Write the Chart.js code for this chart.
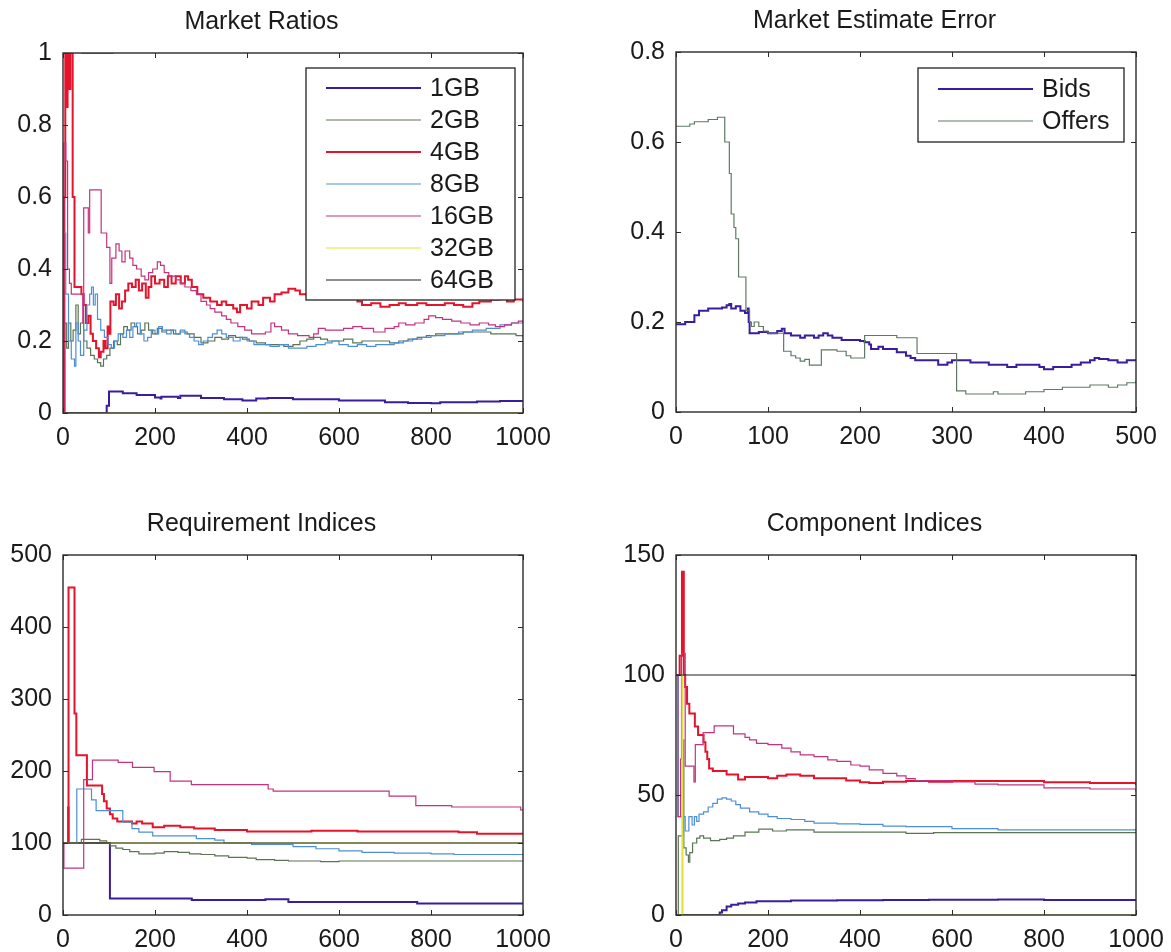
<!DOCTYPE html>
<html>
<head>
<meta charset="utf-8">
<script src="https://cdn.jsdelivr.net/npm/chart.js@4.4.1/dist/chart.umd.min.js"></script>
<style>
  html, body { margin: 0; padding: 0; background: #fff; overflow: hidden; }
  canvas { position: absolute; }
</style>
</head>
<body>
<canvas id="ratios" width="586" height="470" style="left:0;top:0"></canvas>
<canvas id="estimate" width="586" height="470" style="left:613px;top:-1px"></canvas>
<canvas id="requirement" width="586" height="470" style="left:0;top:502px"></canvas>
<canvas id="component" width="586" height="470" style="left:613px;top:502px"></canvas>
<script>
// memory sizes shared by three of the panels
const sizes = ["1GB", "2GB", "4GB", "8GB", "16GB", "32GB", "64GB"];

// Market Ratios: [round, ratio], each value holds until the next round listed
const ratio1GB = [[0,0],[88,0],[95,0.02],[100,0.06],[130,0.055],[160,0.05],[200,0.043],[212,0.04],[214,0.045],[250,0.042],[255,0.048],[300,0.042],[350,0.038],[390,0.035],[420,0.04],[445,0.042],[500,0.038],[600,0.035],[700,0.03],[750,0.028],[800,0.027],[820,0.03],[900,0.032],[950,0.033],[1000,0.033]];
const ratio2GB = [[0,0],[4,0.25],[8,0.18],[12,0.25],[17,0.2],[22,0.23],[28,0.3],[33,0.22],[38,0.25],[45,0.2],[52,0.18],[60,0.16],[68,0.15],[75,0.14],[82,0.13],[88,0.15],[95,0.16],[102,0.18],[110,0.2],[118,0.19],[125,0.22],[132,0.24],[140,0.23],[148,0.25],[156,0.24],[162,0.22],[170,0.23],[178,0.25],[186,0.23],[195,0.22],[205,0.235],[215,0.225],[225,0.23],[240,0.22],[255,0.225],[270,0.22],[285,0.21],[300,0.195],[315,0.2],[330,0.21],[345,0.205],[360,0.215],[375,0.21],[390,0.205],[405,0.2],[420,0.195],[440,0.19],[460,0.19],[480,0.185],[500,0.19],[515,0.2],[530,0.205],[545,0.21],[560,0.205],[575,0.2],[610,0.205],[630,0.195],[650,0.2],[710,0.195],[730,0.2],[750,0.205],[770,0.21],[790,0.215],[810,0.22],[870,0.225],[930,0.22],[985,0.215],[1000,0.21]];
const ratio4GB = [[0,0],[3,0.6],[5,1],[8,0.85],[10,1],[14,0.9],[16,1],[21,0.6],[25,0.35],[40,0.33],[45,0.3],[50,0.25],[55,0.27],[60,0.22],[65,0.2],[72,0.18],[78,0.155],[82,0.17],[88,0.2],[92,0.18],[97,0.24],[100,0.22],[103,0.31],[110,0.3],[115,0.33],[122,0.29],[128,0.31],[135,0.34],[142,0.36],[150,0.35],[158,0.37],[165,0.34],[172,0.36],[180,0.32],[186,0.35],[192,0.38],[200,0.36],[210,0.37],[220,0.35],[228,0.38],[236,0.36],[245,0.38],[256,0.36],[265,0.38],[272,0.37],[280,0.35],[292,0.33],[305,0.32],[320,0.31],[335,0.3],[345,0.31],[355,0.3],[370,0.29],[378,0.28],[385,0.3],[400,0.29],[410,0.31],[425,0.3],[435,0.32],[450,0.31],[460,0.33],[475,0.335],[490,0.345],[505,0.34],[515,0.33],[530,0.325],[545,0.32],[560,0.325],[575,0.33],[590,0.335],[605,0.33],[625,0.32],[640,0.31],[650,0.3],[670,0.305],[690,0.295],[710,0.3],[730,0.305],[745,0.3],[770,0.305],[790,0.3],[830,0.305],[850,0.3],[870,0.295],[890,0.305],[905,0.31],[930,0.315],[950,0.32],[965,0.31],[980,0.315],[1000,0.31]];
const ratio8GB = [[0,0],[1,0.5],[6,0.33],[12,0.2],[18,0.15],[25,0.13],[28,0.25],[33,0.2],[38,0.16],[45,0.23],[52,0.3],[58,0.33],[62,0.35],[66,0.3],[70,0.33],[75,0.26],[82,0.23],[90,0.21],[98,0.19],[105,0.18],[112,0.2],[120,0.22],[130,0.21],[138,0.23],[145,0.21],[152,0.24],[160,0.25],[168,0.22],[176,0.2],[184,0.21],[192,0.23],[200,0.22],[208,0.24],[216,0.23],[225,0.22],[235,0.23],[245,0.22],[255,0.23],[265,0.22],[275,0.21],[285,0.2],[295,0.19],[305,0.2],[315,0.21],[325,0.22],[335,0.23],[345,0.22],[355,0.21],[370,0.2],[385,0.21],[400,0.2],[415,0.19],[450,0.185],[470,0.19],[490,0.18],[530,0.185],[550,0.19],[570,0.195],[585,0.2],[600,0.19],[620,0.185],[640,0.19],[660,0.185],[680,0.19],[720,0.195],[740,0.2],[760,0.205],[780,0.21],[800,0.215],[830,0.22],[860,0.225],[890,0.23],[920,0.235],[950,0.245],[975,0.25],[1000,0.255]];
const ratio16GB = [[0,0],[2,0.75],[6,0.7],[10,0.4],[14,0.36],[18,0.33],[43,0.25],[45,0.57],[55,0.5],[58,0.62],[83,0.5],[95,0.46],[102,0.36],[106,0.43],[115,0.47],[122,0.45],[128,0.42],[135,0.45],[145,0.43],[152,0.41],[160,0.4],[170,0.38],[178,0.37],[186,0.39],[195,0.4],[205,0.42],[212,0.41],[220,0.39],[230,0.38],[245,0.37],[255,0.36],[265,0.35],[278,0.34],[290,0.33],[300,0.31],[312,0.3],[320,0.29],[330,0.28],[345,0.27],[355,0.26],[365,0.25],[380,0.24],[395,0.23],[410,0.22],[440,0.225],[452,0.25],[460,0.24],[475,0.23],[490,0.22],[510,0.215],[535,0.21],[545,0.22],[555,0.235],[570,0.23],[610,0.235],[630,0.24],[650,0.235],[675,0.225],[700,0.235],[720,0.24],[730,0.25],[745,0.245],[765,0.25],[785,0.26],[795,0.27],[810,0.265],[825,0.26],[845,0.255],[865,0.25],[885,0.245],[905,0.25],[925,0.245],[940,0.24],[960,0.245],[975,0.25],[990,0.255],[1000,0.25]];
const ratio32GB = [[0,0],[1000,0]];
const ratio64GB = [[40,1],[110,1]];

// Market Estimate Error: [round, error]
const errBids = [[0,0.195],[10,0.2],[20,0.215],[25,0.225],[35,0.23],[50,0.232],[55,0.237],[58,0.24],[60,0.23],[65,0.235],[70,0.225],[75,0.22],[78,0.23],[79,0.2],[80,0.175],[90,0.178],[100,0.175],[110,0.18],[115,0.185],[118,0.175],[125,0.17],[135,0.165],[140,0.17],[150,0.165],[155,0.17],[160,0.175],[165,0.17],[170,0.165],[180,0.16],[200,0.158],[205,0.155],[210,0.15],[212,0.14],[220,0.145],[225,0.14],[240,0.133],[250,0.125],[255,0.12],[260,0.115],[285,0.105],[295,0.11],[300,0.115],[320,0.11],[340,0.105],[360,0.1],[370,0.105],[395,0.1],[400,0.095],[410,0.1],[430,0.105],[440,0.11],[450,0.115],[455,0.12],[460,0.118],[470,0.115],[480,0.11],[490,0.115],[500,0.118]];
const errOffers = [[0,0.635],[15,0.64],[20,0.645],[35,0.65],[45,0.655],[53,0.6],[58,0.53],[60,0.44],[63,0.41],[65,0.385],[68,0.3],[76,0.225],[80,0.2],[82,0.19],[85,0.2],[90,0.19],[95,0.18],[100,0.175],[117,0.135],[125,0.125],[130,0.12],[135,0.113],[140,0.117],[145,0.104],[158,0.138],[175,0.135],[185,0.125],[190,0.12],[205,0.17],[225,0.17],[240,0.165],[262,0.13],[305,0.047],[315,0.04],[345,0.045],[350,0.04],[380,0.045],[400,0.05],[420,0.055],[450,0.06],[470,0.055],[480,0.06],[490,0.065],[500,0.07]];

// Requirement Indices: [round, index]
const req1GB = [[0,100],[102,23],[280,21],[440,22],[490,18],[770,16],[1000,16]];
const req2GB = [[0,100],[10,150],[13,100],[40,105],[80,103],[95,100],[103,96],[115,93],[130,91],[145,88],[165,85],[200,86],[220,88],[250,87],[275,85],[300,84],[330,82],[360,80],[400,79],[420,77],[460,76],[490,75],[560,74],[600,75],[1000,75]];
const req4GB = [[0,100],[12,455],[25,280],[29,222],[52,180],[85,168],[89,158],[95,148],[102,140],[108,134],[118,130],[150,127],[160,130],[172,127],[195,122],[220,124],[255,122],[285,120],[330,118],[400,116],[540,117],[640,116],[860,115],[900,113],[1000,112]];
const req8GB = [[0,100],[30,175],[62,160],[72,145],[130,129],[150,120],[165,115],[195,110],[290,106],[330,104],[350,100],[410,98],[500,95],[550,92],[600,89],[650,87],[720,86],[800,85],[850,84],[1000,84]];
const req16GB = [[0,100],[2,65],[45,188],[64,215],[120,212],[151,205],[198,199],[233,186],[279,181],[446,175],[457,172],[709,165],[767,152],[845,150],[995,146],[1000,146]];
const req32GB = [[0,100],[1000,100]];
const req64GB = [[0,100],[1000,100]];

// Component Indices: [round, index]
const comp1GB = [[0,0],[90,0],[95,1],[100,2],[110,3.5],[120,4.3],[135,4.8],[150,5.2],[175,5.7],[250,6],[350,6.1],[450,6.2],[550,6.4],[700,6.5],[800,6.3],[900,6.2],[1000,6.1]];
const comp2GB = [[0,0],[5,33],[15,73],[17,28],[22,25],[27,22],[30,26],[36,30],[45,32],[52,33],[60,32],[75,31],[95,31.5],[110,32],[125,33],[150,34.5],[180,35.8],[210,35],[240,35.5],[300,34.5],[500,34],[560,34.3],[1000,34.6]];
const comp4GB = [[0,100],[8,108],[13,143],[17,100],[20,95],[24,88],[29,84],[41,78.5],[48,75],[60,72],[64,68],[68,65],[72,61],[80,60],[110,58.5],[135,56.5],[150,57.5],[200,57],[220,58],[240,58.5],[270,58],[300,57],[370,56],[400,55.3],[420,55],[450,55.5],[500,55.8],[550,55.5],[600,55.8],[700,55.8],[800,55.3],[900,55],[1000,54.2]];
const comp8GB = [[0,100],[5,41],[20,35],[28,41],[35,37.5],[40,41],[45,39],[50,42],[60,43],[70,45],[80,46.5],[90,48.3],[100,48.8],[110,48.3],[120,47.5],[130,46],[140,44.5],[160,43],[180,42],[200,41],[220,40.2],[250,39.8],[280,39],[300,38.3],[350,38],[400,37.8],[450,37],[500,36.8],[600,36],[700,35.5],[900,35.5],[1000,36]];
const comp16GB = [[0,100],[4,41],[10,65],[12,109],[20,62],[39,55.5],[42,71],[59,76],[83,78.8],[125,75.5],[150,74],[160,73],[175,71.5],[200,71],[230,69.5],[250,68],[270,66.7],[300,66],[330,64.6],[350,64],[380,62.5],[400,62],[420,60.5],[450,59],[480,58],[500,56.8],[520,56],[600,55.5],[650,54.5],[700,54.2],[800,53],[900,52.5],[1000,51.3]];
const comp32GB = [[0,0],[13,100],[15,0],[1000,0]];
const comp64GB = [[0,100],[1000,100]];

const family = '"Liberation Sans", Arial, Helvetica, sans-serif';
Chart.defaults.font.family = family;
Chart.defaults.color = "#1a1a1a";

const sizeColors = ["#3a1d9c", "#5b7553", "#e3142c", "#4d8fd6", "#c4337f", "#e2e23c", "#1e1e1e"];
const sizeWidths = [2, 1.2, 2, 1.2, 1.2, 1.2, 1.2];

function sizeSeries(list) {
  return list.map((data, i) => ({ label: sizes[i], data, color: sizeColors[i], width: sizeWidths[i] }));
}

// axis box with inward tick marks on all four sides
const boxFrame = {
  id: "boxFrame",
  afterDraw(chart) {
    const { ctx, chartArea: a, scales: { x, y } } = chart;
    ctx.save();
    ctx.strokeStyle = "#2a2a2a";
    ctx.lineWidth = 1.4;
    ctx.strokeRect(a.left, a.top, a.width, a.height);
    ctx.beginPath();
    x.ticks.forEach(t => {
      const px = Math.round(x.getPixelForValue(t.value)) + 0.5;
      ctx.moveTo(px, a.bottom); ctx.lineTo(px, a.bottom - 5);
      ctx.moveTo(px, a.top); ctx.lineTo(px, a.top + 5);
    });
    y.ticks.forEach(t => {
      const py = Math.round(y.getPixelForValue(t.value)) + 0.5;
      ctx.moveTo(a.left, py); ctx.lineTo(a.left + 5, py);
      ctx.moveTo(a.right, py); ctx.lineTo(a.right - 5, py);
    });
    ctx.lineWidth = 1;
    ctx.stroke();
    ctx.restore();
  }
};

// legend box drawn inside the plot, top right corner
const insideLegend = {
  id: "insideLegend",
  afterDatasetsDraw(chart, args, opts) {
    if (!opts || !opts.width) return;
    const { ctx, chartArea: a } = chart;
    const x0 = a.right - opts.right - opts.width;
    const y0 = a.top + opts.top;
    ctx.save();
    ctx.fillStyle = "#fff";
    ctx.fillRect(x0, y0, opts.width, opts.height);
    ctx.strokeStyle = "#222";
    ctx.lineWidth = 1.3;
    ctx.strokeRect(x0, y0, opts.width, opts.height);
    ctx.font = "25px " + family;
    ctx.textBaseline = "middle";
    chart.data.datasets.forEach((ds, i) => {
      const yy = y0 + opts.first + i * opts.row;
      ctx.beginPath();
      ctx.strokeStyle = ds.borderColor;
      ctx.lineWidth = ds.borderWidth;
      ctx.moveTo(x0 + 20, yy);
      ctx.lineTo(x0 + 115, yy);
      ctx.stroke();
      ctx.fillStyle = "#1a1a1a";
      ctx.fillText(ds.label, x0 + 124, yy + 1);
    });
    ctx.restore();
  }
};

function drawPanel(id, title, xMax, xStep, yMax, yStep, series, legend) {
  const fmt = v => String(Math.round(v * 100) / 100);
  new Chart(document.getElementById(id), {
    type: "line",
    data: {
      datasets: series.map((s, i) => ({
        label: s.label,
        data: s.data,
        borderColor: s.color,
        backgroundColor: s.color,
        borderWidth: s.width,
        stepped: true,
        pointRadius: 0,
        fill: false,
        order: series.length - i
      }))
    },
    options: {
      responsive: false,
      animation: false,
      layout: { padding: { left: 0, right: 63, top: 0, bottom: 0 } },
      plugins: {
        legend: { display: false },
        tooltip: { enabled: false },
        title: {
          display: true,
          text: title,
          color: "#1a1a1a",
          font: { size: 25, weight: "normal", family },
          padding: { top: 7, bottom: 16 }
        },
        insideLegend: legend || {}
      },
      scales: {
        x: {
          type: "linear",
          min: 0,
          max: xMax,
          grid: { display: false, drawTicks: false },
          border: { display: false },
          ticks: { stepSize: xStep, maxRotation: 0, autoSkip: false, padding: 10, font: { size: 25 }, color: "#1a1a1a", callback: fmt },
          afterFit(scale) { scale.height = 57; }
        },
        y: {
          min: 0,
          max: yMax,
          grid: { display: false, drawTicks: false },
          border: { display: false },
          ticks: { stepSize: yStep, padding: 11, font: { size: 25 }, color: "#1a1a1a", callback: fmt },
          afterFit(scale) { scale.width = 63; }
        }
      }
    },
    plugins: [insideLegend, boxFrame]
  });
}

drawPanel("ratios", "Market Ratios", 1000, 200, 1, 0.2,
  sizeSeries([ratio1GB, ratio2GB, ratio4GB, ratio8GB, ratio16GB, ratio32GB, ratio64GB]),
  { width: 209, height: 232, right: 8, top: 15, first: 20, row: 32 });

drawPanel("estimate", "Market Estimate Error", 500, 100, 0.8, 0.2, [
  { label: "Bids", data: errBids, color: "#3a1d9c", width: 2 },
  { label: "Offers", data: errOffers, color: "#5e7a66", width: 1.2 }
], { width: 206, height: 74, right: 12, top: 16, first: 21, row: 32 });

drawPanel("requirement", "Requirement Indices", 1000, 200, 500, 100,
  sizeSeries([req1GB, req2GB, req4GB, req8GB, req16GB, req32GB, req64GB]));

drawPanel("component", "Component Indices", 1000, 200, 150, 50,
  sizeSeries([comp1GB, comp2GB, comp4GB, comp8GB, comp16GB, comp32GB, comp64GB]));
</script>
</body>
</html>
